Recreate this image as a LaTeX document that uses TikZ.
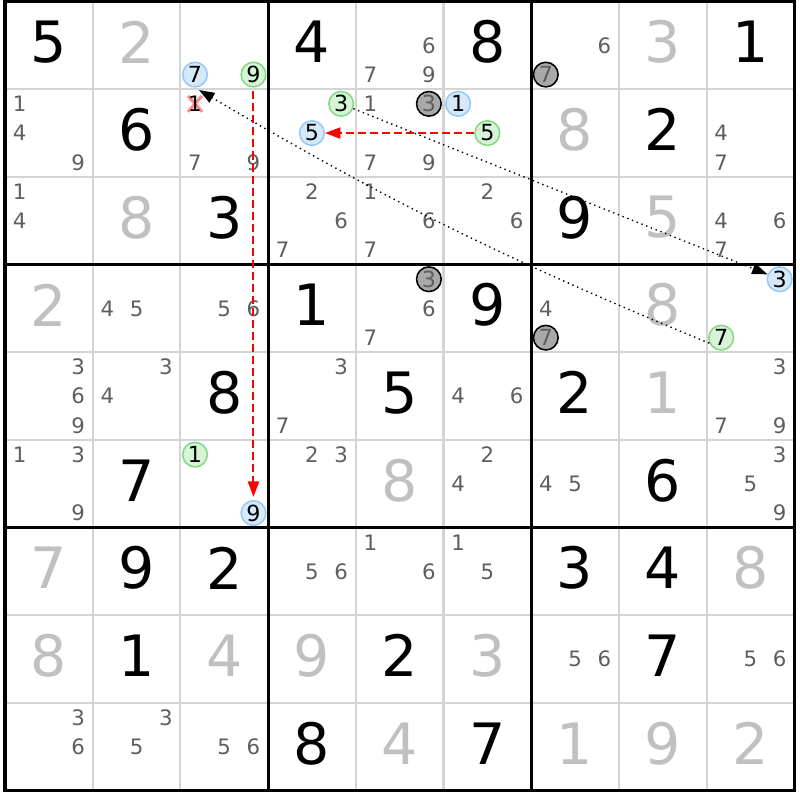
\documentclass[tikz,border=0pt]{standalone}
\usepackage{fontspec}
\setmainfont{DejaVu Sans}
\usetikzlibrary{arrows.meta}
\definecolor{solved}{HTML}{C0C0C0}
\definecolor{pencil}{HTML}{5E5E5E}
\definecolor{gridgray}{HTML}{D4D4D4}
\definecolor{bluefill}{HTML}{D6E9FB}
\definecolor{bluedraw}{HTML}{98C8F4}
\definecolor{greenfill}{HTML}{D6F5D6}
\definecolor{greendraw}{HTML}{84D884}
\definecolor{grayfill}{HTML}{A9A9A9}
\definecolor{crossred}{HTML}{FF8A8A}
\tikzset{
	given/.style={inner sep=0pt, font=\fontsize{18.5}{20}\selectfont},
	placed/.style={given, text=solved},
	pen/.style={inner sep=0pt, text=pencil, font=\fontsize{6.9}{7}\selectfont},
	spot/.style args={#1/#2/#3}{at={({#2+1/6+mod(#3-1,3)/3},{-#1-1/6-int((#3-1)/3)/3})}},
	ring/.style={circle, minimum size=8pt, inner sep=0pt, line width=0.5pt, font=\fontsize{7.2}{8}\selectfont},
	bluering/.style={ring, draw=bluedraw, fill=bluefill},
	greenring/.style={ring, draw=greendraw, fill=greenfill},
	grayring/.style={ring, draw=black, fill=grayfill, text=pencil},
	strong/.style={draw=red, line width=0.65pt, dash pattern=on 2.6pt off 1.3pt, -{Triangle[length=5pt,width=3.6pt]}},
	weak/.style={line width=0.45pt, dash pattern=on 0.45pt off 1.2pt, -{Triangle[length=5pt,width=3.6pt]}}
}
\begin{document}
\begin{tikzpicture}[x=1cm, y=1cm, line join=round]
				\useasboundingbox (-0.057,0.017) rectangle (9.065,-9.105);
				\draw[gridgray, line width=0.65pt] (0,-9) grid (9,0);
				\foreach \i in {0,3,6,9}{
				\draw[line width=1pt, line cap=rect] (\i,0) -- (\i,-9);
				\draw[line width=1pt, line cap=rect] (0,-\i) -- (9,-\i);}
				\foreach \r/\c/\d in {0/0/5,0/3/4,0/5/8,0/8/1,1/1/6,1/7/2,2/2/3,2/6/9,3/3/1,3/5/9,4/2/8,4/4/5,4/6/2,5/1/7,5/7/6,6/1/9,6/2/2,6/6/3,6/7/4,7/1/1,7/4/2,7/7/7,8/3/8,8/5/7}
				\node[given] (n\r\c) at (\c+0.5,-\r-0.46) {\d};
				\foreach \r/\c/\d in {0/1/2,0/7/3,1/6/8,2/1/8,2/7/5,3/0/2,3/7/8,4/7/1,5/4/8,6/0/7,6/8/8,7/0/8,7/2/4,7/3/9,7/5/3,8/4/4,8/6/1,8/7/9,8/8/2}
				\node[placed] (n\r\c) at (\c+0.5,-\r-0.46) {\d};
				\foreach \r/\c/\d in {0/4/6,0/4/7,0/4/9,0/6/6,1/0/1,1/0/4,1/0/9,1/2/7,1/2/9,1/4/1,1/4/7,1/4/9,1/8/4,1/8/7,
					2/0/1,2/0/4,2/3/2,2/3/6,2/3/7,2/4/1,2/4/6,2/4/7,2/5/2,2/5/6,2/8/4,2/8/6,2/8/7,
					3/1/4,3/1/5,3/2/5,3/2/6,3/4/6,3/4/7,3/6/4,4/0/3,4/0/6,4/0/9,4/1/3,4/1/4,4/3/3,4/3/7,4/5/4,4/5/6,4/8/3,4/8/7,4/8/9,
					5/0/1,5/0/3,5/0/9,5/3/2,5/3/3,5/5/2,5/5/4,5/6/4,5/6/5,5/8/3,5/8/5,5/8/9,
					6/3/5,6/3/6,6/4/1,6/4/6,6/5/1,6/5/5,7/6/5,7/6/6,7/8/5,7/8/6,8/0/3,8/0/6,8/1/3,8/1/5,8/2/5,8/2/6}
				\node[pen, spot=\r/\c/\d] (p\r\c\d) {\d};
				\coordinate[spot=1/2/1] (x121);
				\draw[crossred, line width=1pt] (x121) +(-0.08,0.09) -- +(0.08,-0.09) (x121) +(-0.08,-0.09) -- +(0.08,0.09);
				\node[pen, text=black, spot=1/2/1] (p121) {1};
				\foreach \r/\c/\d in {0/6/7,1/4/3,3/4/3,3/6/7}
				\node[grayring, spot=\r/\c/\d] (x\r\c\d) {\d};
				\node[bluering, spot=0/2/7] (b7) {7};
				\node[greenring, spot=0/2/9] (g9) {9};
				\node[greenring, spot=1/3/3] (g3) {3};
				\node[bluering, spot=1/3/5] (b5) {5};
				\node[bluering, spot=1/5/1] (b1) {1};
				\node[greenring, spot=1/5/5] (g5) {5};
				\node[bluering, spot=3/8/3] (b3) {3};
				\node[greenring, spot=3/8/7] (g7) {7};
				\node[greenring, spot=5/2/1] (g1) {1};
				\node[bluering, spot=5/2/9] (b9) {9};
				\draw[strong, shorten <=1.2pt, shorten >=1pt] (g9) -- (b9);
				\draw[strong] (g5) -- (b5);
				\draw[weak] (g3) -- (b3);
				\draw[weak, shorten >=1.5pt] (g7.205) to[bend left=4] (b7.south);
			\end{tikzpicture}
\end{document}
